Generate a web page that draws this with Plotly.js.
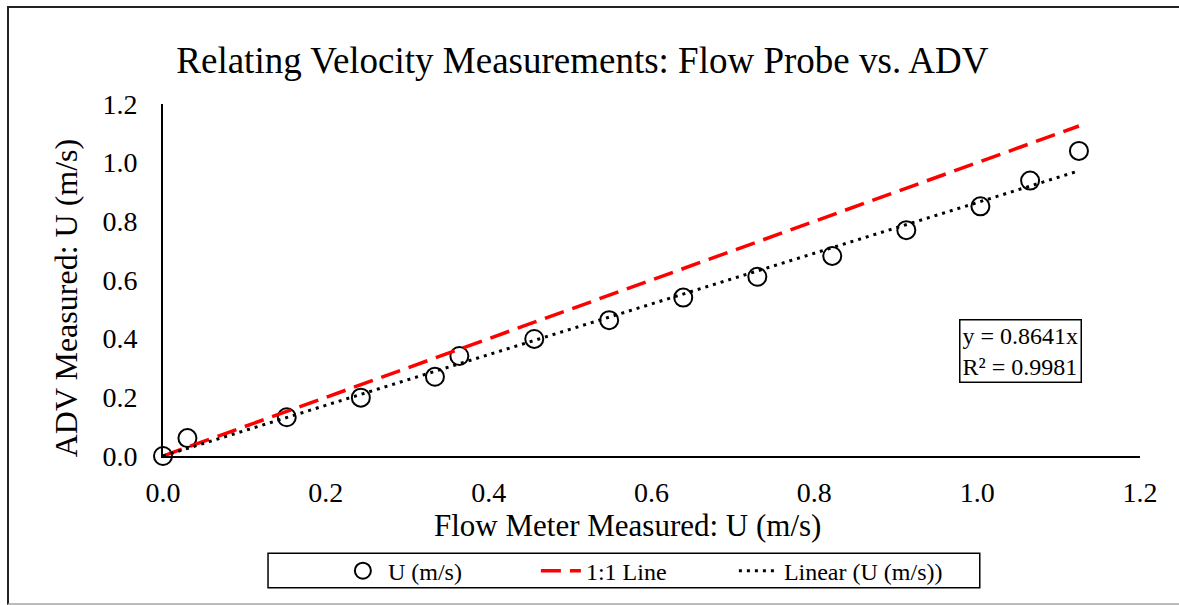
<!DOCTYPE html>
<html>
<head>
<meta charset="utf-8">
<script src="https://cdn.plot.ly/plotly-3.0.1.min.js"></script>
<style>
  html, body { margin: 0; padding: 0; background: #fff; }
  #wrap { position: relative; width: 1179px; height: 605px; overflow: hidden; }
  #chart { position: absolute; left: 0; top: 0; width: 1179px; height: 605px; }
  #frame { position: absolute; left: 7px; top: 6px; width: 1200px; height: 595px;
           border-left: 2px solid #222; border-top: 2px solid #222; border-bottom: 2px solid #bbb;
           pointer-events: none; }
</style>
</head>
<body>
<div id="wrap">
  <div id="chart"></div>
  <div id="frame"></div>
</div>
<script>
const flowMeterU = [0.0, 0.03, 0.152, 0.243, 0.334, 0.364, 0.456, 0.548, 0.639, 0.730, 0.822, 0.913, 1.004, 1.065, 1.125];
const advU       = [0.0, 0.061, 0.132, 0.199, 0.270, 0.341, 0.399, 0.463, 0.540, 0.611, 0.682, 0.770, 0.851, 0.939, 1.040];

// 1:1 reference line
const oneToOneX = [0.0, 1.125];
const oneToOneY = [0.0, 1.125];

// Linear trendline through origin (y = 0.8641x)
const trendX = [0.0, 1.125];
const trendY = [0.0, 0.972];

const tickVals = [0, 0.2, 0.4, 0.6, 0.8, 1.0, 1.2];
const tickText = ["0.0", "0.2", "0.4", "0.6", "0.8", "1.0", "1.2"];

const titleText = "Relating Velocity Measurements: Flow Probe vs. ADV";
const xTitle = "Flow Meter Measured: U (m/s)";
const yTitle = "ADV Measured: U (m/s)";
const eqText = "y = 0.8641x<br>R² = 0.9981";

const FONT = "Liberation Serif, Times New Roman, serif";

const traces = [
  {
    x: flowMeterU, y: advU, name: "U (m/s)", type: "scatter", mode: "markers", cliponaxis: false,
    marker: { symbol: "circle-open", size: 18, color: "#000", line: { width: 2, color: "#000" } }
  },
  {
    x: oneToOneX, y: oneToOneY, name: "1:1 Line", type: "scatter", mode: "lines", cliponaxis: false,
    line: { color: "#ff0000", width: 3.5, dash: "20px,9px" }
  },
  {
    x: trendX, y: trendY, name: "Linear (U (m/s))", type: "scatter", mode: "lines", cliponaxis: false,
    line: { color: "#000", width: 3, dash: "3px,5px" }
  },
  {
    // blank legend-only spacer so the last legend label is not clipped
    x: trendX, y: trendY, name: " ", type: "scatter", mode: "lines", visible: "legendonly",
    line: { color: "rgba(0,0,0,0)", width: 0 }
  }
];

const layout = {
  width: 1179, height: 605,
  paper_bgcolor: "rgba(0,0,0,0)", plot_bgcolor: "#fff",
  margin: { l: 163, r: 39, t: 104, b: 146 },
  font: { family: FONT, color: "#000", size: 24 },
  title: { text: titleText, font: { family: FONT, size: 37, color: "#000" },
           x: 0.494, xanchor: "center", y: 0.9, yanchor: "middle" },
  xaxis: {
    range: [0, 1.2], tickvals: tickVals, ticktext: tickText,
    showline: true, linecolor: "#000", linewidth: 2, showgrid: false, zeroline: false,
    ticks: "outside", ticklen: 10, tickcolor: "rgba(0,0,0,0)",
    tickfont: { family: FONT, size: 28, color: "#000" }
  },
  yaxis: {
    range: [0, 1.2], tickvals: tickVals, ticktext: tickText,
    showline: true, linecolor: "#000", linewidth: 2, showgrid: false, zeroline: false,
    ticks: "outside", ticklen: 18, tickcolor: "rgba(0,0,0,0)",
    tickfont: { family: FONT, size: 28, color: "#000" }
  },
  showlegend: true,
  legend: {
    orientation: "h", x: 0.179, xanchor: "left", y: -0.327, yanchor: "middle",
    borderwidth: 0, bgcolor: "rgba(0,0,0,0)",
    font: { family: FONT, size: 24, color: "#000" },
    entrywidth: 143, itemwidth: 40
  },
  shapes: [
    { type: "rect", xref: "paper", yref: "paper", x0: 0.1075, x1: 0.836, y0: -0.276, y1: -0.3746,
      line: { color: "#000", width: 1.5 }, fillcolor: "rgba(0,0,0,0)" }
  ],
  annotations: [
    {
      xref: "paper", yref: "paper", x: 0.475, y: -0.197, xanchor: "center", yanchor: "middle",
      text: xTitle, showarrow: false,
      font: { family: FONT, size: 31, color: "#000" }
    },
    {
      xref: "paper", yref: "paper", x: -0.0993, y: 0.448, xanchor: "center", yanchor: "middle",
      text: yTitle, textangle: -90, showarrow: false,
      font: { family: FONT, size: 32, color: "#000" }
    },
    {
      xref: "paper", yref: "paper", x: 0.878, y: 0.297, xanchor: "center", yanchor: "middle",
      text: eqText, showarrow: false, align: "left",
      font: { family: FONT, size: 24, color: "#000" },
      bordercolor: "#000", borderwidth: 1.5, borderpad: 2, bgcolor: "#fff"
    }
  ]
};

Plotly.newPlot("chart", traces, layout, { displayModeBar: false, staticPlot: true });
</script>
</body>
</html>
